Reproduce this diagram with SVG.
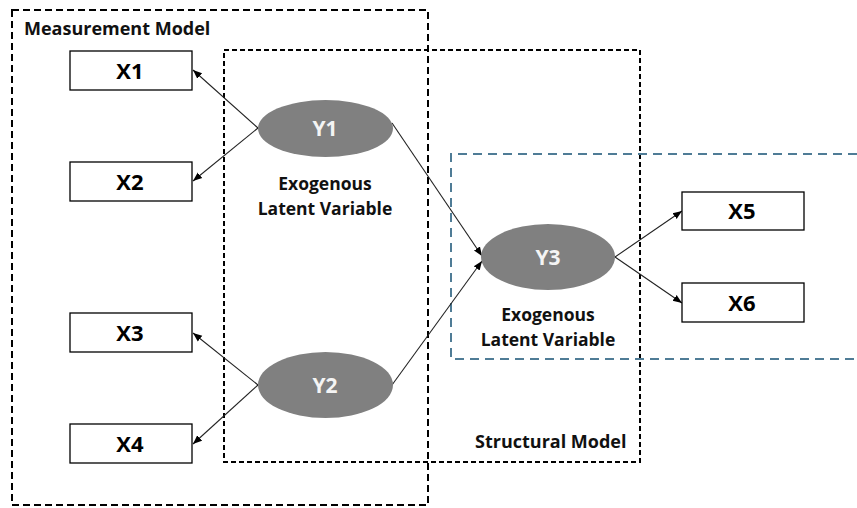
<svg xmlns="http://www.w3.org/2000/svg" width="857" height="508" viewBox="0 0 857 508">
<style>
.frame{fill:none;stroke:#000;stroke-width:2;stroke-dasharray:7 4}
.frame2{fill:none;stroke:#000;stroke-width:2;stroke-dasharray:5 3}
.frame3{fill:none;stroke:#4f7c96;stroke-width:2;stroke-dasharray:9 6}
.box{fill:#fff;stroke:#000;stroke-width:1.3}
.lat{fill:#808080}
.xl{font-family:"Open Sans",sans-serif;font-weight:700;font-size:22px;text-anchor:middle;fill:#000}
.yl{font-family:"Open Sans",sans-serif;font-weight:700;font-size:21px;text-anchor:middle;fill:#f4f4f4}
.cap{font-family:"Open Sans",sans-serif;font-weight:700;font-size:17.5px;text-anchor:middle;fill:#111}
.title{font-family:"Open Sans",sans-serif;font-weight:700;font-size:18px;fill:#111}
.edge{stroke:#222;stroke-width:1.1;fill:none;marker-end:url(#ah)}
</style>
<defs>
<marker id="ah" viewBox="0 0 10 10" refX="10" refY="5" markerWidth="9" markerHeight="9" markerUnits="userSpaceOnUse" orient="auto">
<path d="M0,1 L10,5 L0,9 z" fill="#000"/>
</marker>
</defs>
<g id="measurement-model">
<rect class="frame" x="12" y="10" width="416" height="495"/>
<text class="title" x="24" y="35">Measurement Model</text>
</g>
<g id="structural-model">
<rect class="frame2" x="224" y="50" width="416" height="412"/>
<text class="title" x="475" y="448">Structural Model</text>
</g>
<g id="y3-region">
<path class="frame3" d="M857,154 H451 V359 H857"/>
</g>
<g id="connectors">
<line class="edge" x1="258" y1="128" x2="193" y2="70"/>
<line class="edge" x1="258" y1="128" x2="193" y2="181"/>
<line class="edge" x1="258" y1="385" x2="193" y2="333"/>
<line class="edge" x1="258" y1="385" x2="193" y2="444"/>
<line class="edge" x1="392" y1="123" x2="482" y2="256"/>
<line class="edge" x1="392" y1="385" x2="482" y2="261"/>
<line class="edge" x1="615" y1="257" x2="682" y2="211"/>
<line class="edge" x1="615" y1="257" x2="682" y2="303"/>
</g>
<g id="X1"><rect class="box" x="70" y="51" width="122" height="39"/><text class="xl" x="130" y="79">X1</text></g>
<g id="X2"><rect class="box" x="70" y="162" width="122" height="39"/><text class="xl" x="130" y="190">X2</text></g>
<g id="X3"><rect class="box" x="70" y="313" width="122" height="39"/><text class="xl" x="130" y="341">X3</text></g>
<g id="X4"><rect class="box" x="70" y="424" width="122" height="39"/><text class="xl" x="130" y="452">X4</text></g>
<g id="X5"><rect class="box" x="682" y="192" width="122" height="38"/><text class="xl" x="742" y="219">X5</text></g>
<g id="X6"><rect class="box" x="682" y="283" width="122" height="39"/><text class="xl" x="742" y="311">X6</text></g>
<g id="Y1">
<ellipse class="lat" cx="325.5" cy="128.5" rx="67.5" ry="28.5"/>
<text class="yl" x="325" y="136">Y1</text>
<text class="cap" x="325" y="190">Exogenous</text>
<text class="cap" x="325" y="215">Latent Variable</text>
</g>
<g id="Y2">
<ellipse class="lat" cx="325.5" cy="385" rx="67.5" ry="33"/>
<text class="yl" x="325" y="393">Y2</text>
</g>
<g id="Y3">
<ellipse class="lat" cx="548" cy="257" rx="67" ry="33"/>
<text class="yl" x="548" y="265">Y3</text>
<text class="cap" x="548" y="321">Exogenous</text>
<text class="cap" x="548" y="346">Latent Variable</text>
</g>
</svg>
